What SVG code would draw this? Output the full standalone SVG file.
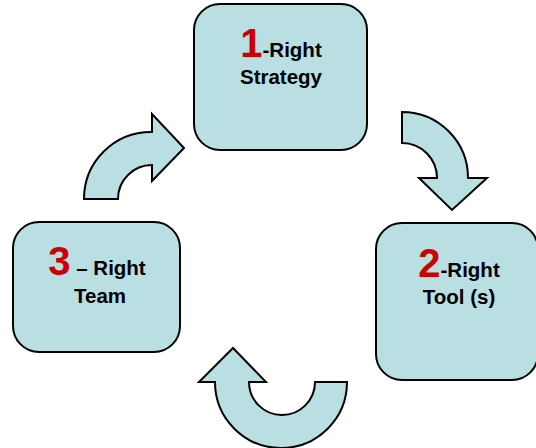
<svg xmlns="http://www.w3.org/2000/svg" width="536" height="448" viewBox="0 0 536 448">
  <style>
    .box { fill: #BADFE3; stroke: #000; stroke-width: 2; }
    .arrow { fill: #BADFE3; stroke: #000; stroke-width: 2; stroke-linejoin: miter; }
    .lbl { font-family: "Liberation Sans", Arial, sans-serif; font-weight: bold; font-size: 20.5px; fill: #000; text-anchor: middle; }
    .num { font-size: 40px; fill: #CC0000; }
  </style>
  <rect width="536" height="448" fill="#fff"/>

  <g id="node-strategy">
    <rect class="box" x="194" y="4" width="173" height="146" rx="26"/>
    <text class="lbl" x="281" y="57"><tspan class="num">1</tspan>-Right</text>
    <text class="lbl" x="281" y="84">Strategy</text>
  </g>

  <g id="node-tools">
    <rect class="box" x="376" y="223" width="162" height="157" rx="26"/>
    <text class="lbl" x="459" y="277"><tspan class="num">2</tspan>-Right</text>
    <text class="lbl" x="459" y="304">Tool (s)</text>
  </g>

  <g id="node-team">
    <rect class="box" x="13" y="222" width="167" height="130" rx="26"/>
    <text class="lbl" x="97" y="275"><tspan class="num">3</tspan> – Right</text>
    <text class="lbl" x="100" y="303">Team</text>
  </g>

  <g id="connectors">
    <!-- strategy -> tools -->
    <path class="arrow" d="M402,112 A66,66 0 0 1 468,178 L487,178 L452,210 L419,178 L437,178 A35,35 0 0 0 402,143 Z"/>
    <!-- tools -> team -->
    <path class="arrow" d="M347,382 A66,66 0 0 1 215,382 L199,382 L233,348 L266,382 L249,382 A33,33 0 0 0 315,382 Z"/>
    <!-- team -> strategy -->
    <path class="arrow" d="M84,199 A67,67 0 0 1 152,132 L152,114 L184,148 L152,181 L152,165 A34,34 0 0 0 118,199 Z"/>
  </g>
</svg>
